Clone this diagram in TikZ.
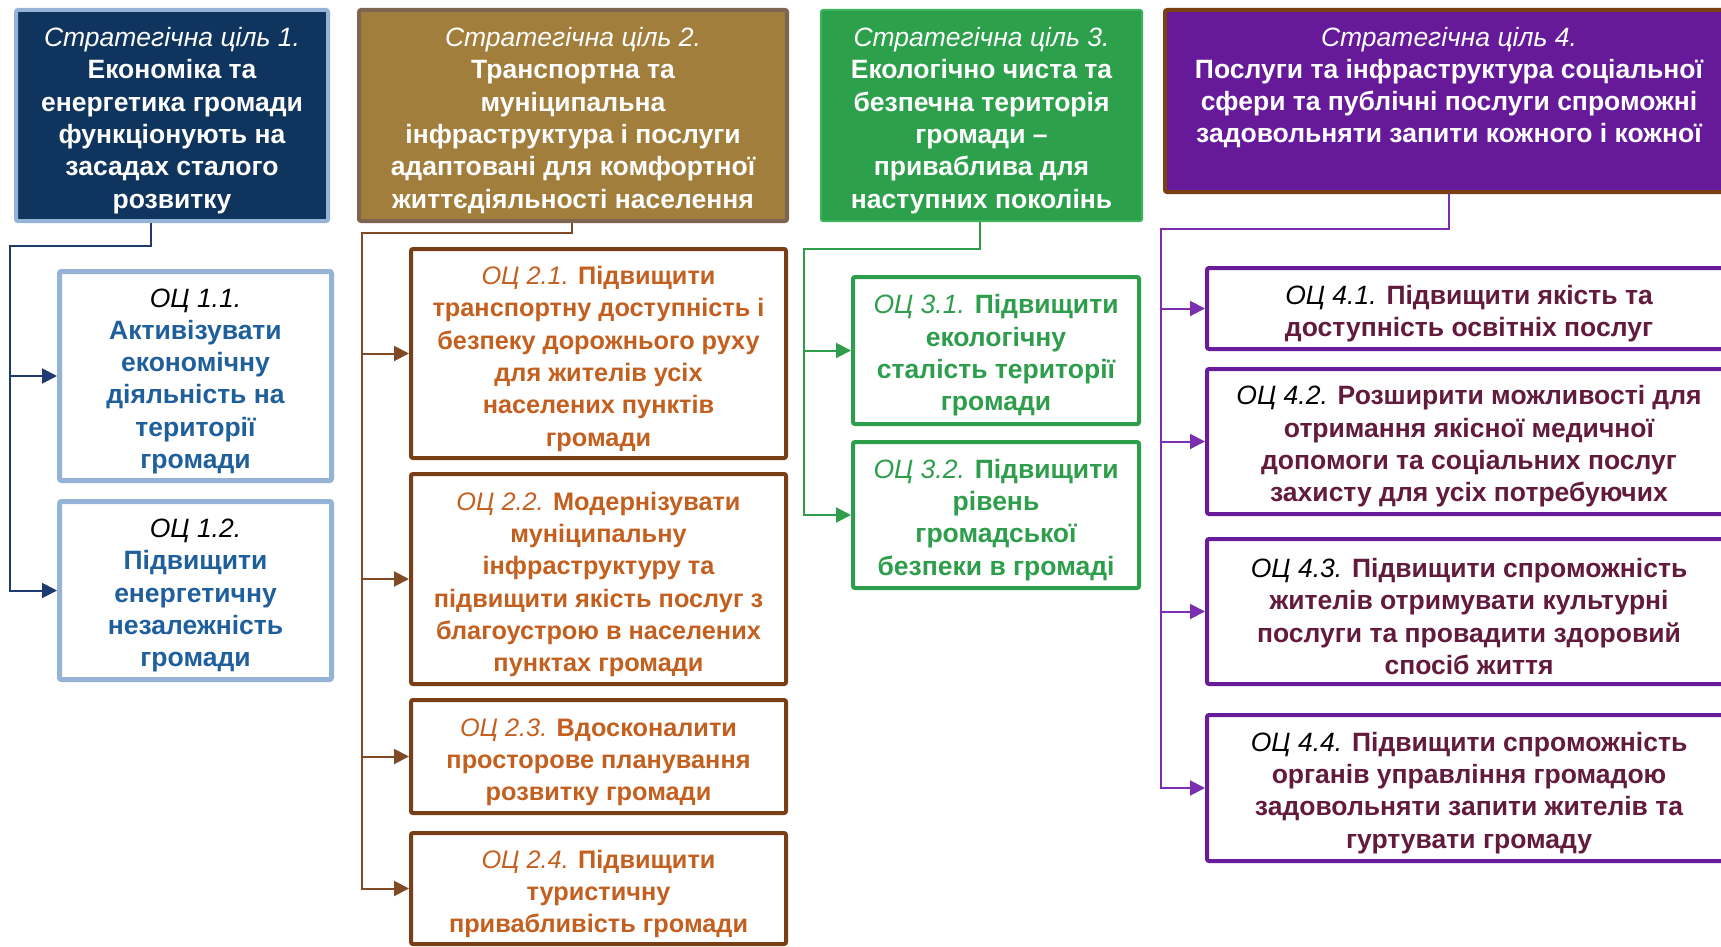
\documentclass[tikz,border=0pt]{standalone}
\usepackage{fontspec}
\setmainfont{Liberation Sans}
\usetikzlibrary{arrows.meta}
\newcommand\boxfont{\fontsize{26.5}{32.3}\selectfont\bfseries}
\newcommand\smallboxfont{\fontsize{25.3}{32.3}\selectfont\bfseries}
\newcommand\lbl[1]{{\mdseries\itshape #1}}
\newcommand\topstrut{\rule{0pt}{29pt}}
\definecolor{sgA}{HTML}{0F355E}
\definecolor{sgAb}{HTML}{95B3D7}
\definecolor{ocAt}{HTML}{1F5F9C}
\definecolor{lnA}{HTML}{1F3A6E}
\definecolor{sgB}{HTML}{A27E3C}
\definecolor{sgBb}{HTML}{7D6552}
\definecolor{ocBb}{HTML}{7A3E16}
\definecolor{ocBt}{HTML}{C4601F}
\definecolor{lnB}{HTML}{7F4A25}
\definecolor{sgC}{HTML}{2DA04C}
\definecolor{sgCb}{HTML}{3DB35C}
\definecolor{ocC}{HTML}{2E9E4C}
\definecolor{sgD}{HTML}{661A99}
\definecolor{sgDb}{HTML}{7B3F14}
\definecolor{ocDb}{HTML}{6A1B9A}
\definecolor{ocDt}{HTML}{621B3C}
\definecolor{lnD}{HTML}{7B2FB0}
\tikzset{
  anybox/.style={rectangle, rounded corners=2pt, align=center, inner sep=0pt, font=\boxfont},
  sgbox/.style={anybox, line width=4pt, text=white},
  ocA/.style={anybox, line width=5pt, draw=sgAb, fill=white, text=ocAt},
  ocB/.style={anybox, line width=4pt, draw=ocBb, fill=white, text=ocBt, font=\smallboxfont},
  ocCs/.style={anybox, line width=4pt, draw=ocC, fill=white, text=ocC},
  ocD/.style={anybox, line width=4pt, draw=ocDb, fill=white, text=ocDt},
  tip/.style={-{Triangle[length=15pt,width=15pt]}},
  conA/.style={draw=lnA, line width=2pt, tip},
  conB/.style={draw=lnB, line width=2pt, tip},
  conC/.style={draw=ocC, line width=2pt, tip},
  conD/.style={draw=lnD, line width=2pt, tip},
}
\begin{document}
\begin{tikzpicture}[x=1pt,y=-1pt]
\useasboundingbox[fill=white] (0,0) rectangle (1721,947);
\begin{scope}
\clip (0,0) rectangle (1721,947);
% strategic goals
\node[sgbox, fill=sgA, draw=sgAb, minimum width=312pt, minimum height=211pt] (sg1) at (172,115.5)
 {\topstrut\lbl{Стратегічна ціль 1.}\\Економіка та\\енергетика громади\\функціонують на\\засадах сталого\\розвитку};
\node[sgbox, fill=sgB, draw=sgBb, minimum width=428pt, minimum height=211pt] (sg2) at (573,115.5)
 {\topstrut\lbl{Стратегічна ціль 2.}\\Транспортна та\\муніципальна\\інфраструктура і послуги\\адаптовані для комфортної\\життєдіяльності населення};
\node[sgbox, fill=sgC, draw=sgCb, line width=2pt, minimum width=321pt, minimum height=211pt] (sg3) at (981.5,115.5)
 {\topstrut\lbl{Стратегічна ціль 3.}\\Екологічно чиста та\\безпечна територія\\громади –\\приваблива для\\наступних поколінь};
\node[sgbox, fill=sgD, draw=sgDb, minimum width=568pt, minimum height=182pt] (sg4) at (1449,101)
 {\lbl{Стратегічна ціль 4.}\\Послуги та інфраструктура соціальної\\сфери та публічні послуги спроможні\\задовольняти запити кожного і кожної\\\mbox{}};
% goal 1
\node[ocA, minimum width=272pt, minimum height=209pt] (oc11) at (195.5,376)
 {\topstrut\lbl{\color{black}ОЦ 1.1.}\\Активізувати\\економічну\\діяльність на\\території\\громади};
\node[ocA, minimum width=272pt, minimum height=178pt] (oc12) at (195.5,590.5)
 {\topstrut\lbl{\color{black}ОЦ 1.2.}\\Підвищити\\енергетичну\\незалежність\\громади};
% goal 2
\node[ocB, minimum width=375pt, minimum height=209pt] (oc21) at (598.5,353.5)
 {\topstrut\lbl{ОЦ 2.1.} Підвищити\\транспортну доступність і\\безпеку дорожнього руху\\для жителів усіх\\населених пунктів\\громади};
\node[ocB, minimum width=375pt, minimum height=210pt] (oc22) at (598.5,579)
 {\topstrut\lbl{ОЦ 2.2.} Модернізувати\\муніципальну\\інфраструктуру та\\підвищити якість послуг з\\благоустрою в населених\\пунктах громади};
\node[ocB, minimum width=375pt, minimum height=113pt] (oc23) at (598.5,756.5)
 {\topstrut\lbl{ОЦ 2.3.} Вдосконалити\\просторове планування\\розвитку громади};
\node[ocB, minimum width=375pt, minimum height=111pt] (oc24) at (598.5,888.5)
 {\topstrut\lbl{ОЦ 2.4.} Підвищити\\туристичну\\привабливість громади};
% goal 3
\node[ocCs, minimum width=286pt, minimum height=147pt] (oc31) at (996,350.5)
 {\topstrut\lbl{ОЦ 3.1.} Підвищити\\екологічну\\сталість території\\громади};
\node[ocCs, minimum width=286pt, minimum height=146pt] (oc32) at (996,515)
 {\topstrut\lbl{ОЦ 3.2.} Підвищити\\рівень\\громадської\\безпеки в громаді};
% goal 4
\node[ocD, minimum width=524pt, minimum height=81pt] (oc41) at (1469,308.5)
 {\topstrut\lbl{\color{black}ОЦ 4.1.} Підвищити якість та\\доступність освітніх послуг};
\node[ocD, minimum width=524pt, minimum height=145pt] (oc42) at (1469,441.5)
 {\topstrut\lbl{\color{black}ОЦ 4.2.} Розширити можливості для\\отримання якісної медичної\\допомоги та соціальних послуг\\захисту для усіх потребуючих};
\node[ocD, minimum width=524pt, minimum height=145pt] (oc43) at (1469,611.5)
 {\topstrut\lbl{\color{black}ОЦ 4.3.} Підвищити спроможність\\жителів отримувати культурні\\послуги та провадити здоровий\\спосіб життя};
\node[ocD, minimum width=524pt, minimum height=146pt] (oc44) at (1469,788)
 {\topstrut\lbl{\color{black}ОЦ 4.4.} Підвищити спроможність\\органів управління громадою\\задовольняти запити жителів та\\гуртувати громаду};
% connectors
\coordinate (t1) at (151,246); \coordinate (b1) at (10,246);
\coordinate (t2) at (572,233); \coordinate (b2) at (362,233);
\coordinate (t3) at (980,249); \coordinate (b3) at (804,249);
\coordinate (t4) at (1449,229); \coordinate (b4) at (1161,229);
\draw[conA] (sg1.south -| t1) -- (t1) -- (b1) |- (oc12.west);
\draw[conA] (b1 |- oc11.west) -- (oc11.west);
\draw[conB] (sg2.south -| t2) -- (t2) -- (b2) |- (oc24.west);
\draw[conB] (b2 |- oc21.west) -- (oc21.west);
\draw[conB] (b2 |- oc22.west) -- (oc22.west);
\draw[conB] (b2 |- oc23.west) -- (oc23.west);
\draw[conC] (sg3.south -| t3) -- (t3) -- (b3) |- (oc32.west);
\draw[conC] (b3 |- oc31.west) -- (oc31.west);
\draw[conD] (sg4.south -| t4) -- (t4) -- (b4) |- (oc44.west);
\draw[conD] (b4 |- oc41.west) -- (oc41.west);
\draw[conD] (b4 |- oc42.west) -- (oc42.west);
\draw[conD] (b4 |- oc43.west) -- (oc43.west);
\end{scope}
\end{tikzpicture}
\end{document}
